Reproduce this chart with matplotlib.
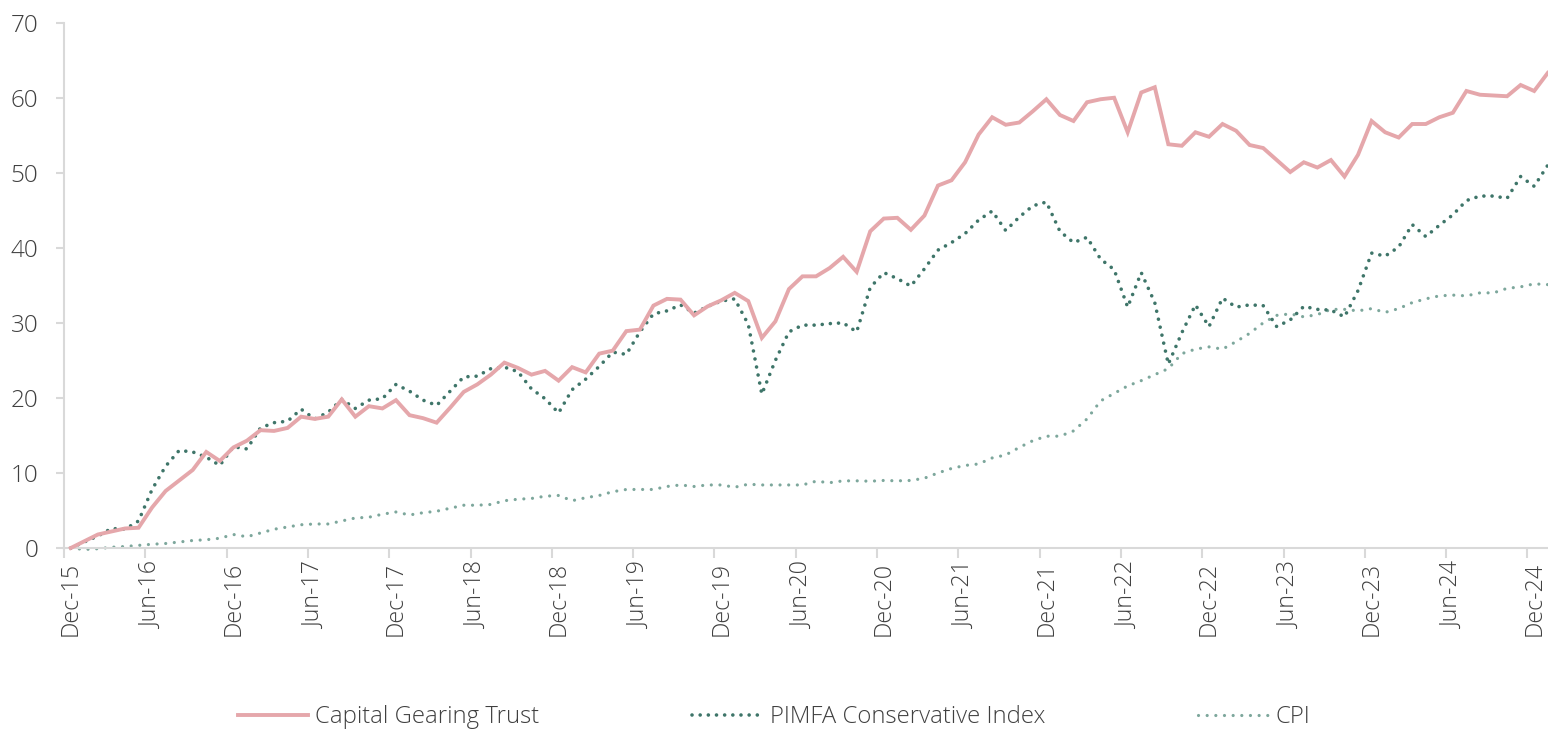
import matplotlib
matplotlib.use("Agg")
import matplotlib.pyplot as plt
from matplotlib.lines import Line2D

plt.rcParams['font.family'] = ['Open Sans', 'DejaVu Sans']
plt.rcParams['font.weight'] = 'light'

# ---- data (monthly, Dec-15 .. Jan-25) ----
start_year, start_month = 2015, 12
n_points = 110
month_names = ["Jan", "Feb", "Mar", "Apr", "May", "Jun",
               "Jul", "Aug", "Sep", "Oct", "Nov", "Dec"]
months = []
for k in range(n_points):
    m = (start_month - 1 + k) % 12
    y = start_year + (start_month - 1 + k) // 12
    months.append(f"{month_names[m]}-{y % 100:02d}")

capital_gearing = [
    0.0, 0.9, 1.8, 2.2, 2.6, 2.7, 5.4, 7.6, 9.0, 10.4,
    12.8, 11.6, 13.4, 14.3, 15.7, 15.6, 16.0, 17.5, 17.2, 17.5,
    19.8, 17.5, 18.9, 18.6, 19.7, 17.7, 17.3, 16.7, 18.7, 20.8,
    21.8, 23.1, 24.7, 24.0, 23.1, 23.6, 22.3, 24.1, 23.4, 25.9,
    26.3, 28.9, 29.1, 32.3, 33.2, 33.1, 31.0, 32.2, 33.0, 34.0,
    32.9, 28.0, 30.2, 34.5, 36.2, 36.2, 37.3, 38.8, 36.8, 42.2,
    43.9, 44.0, 42.4, 44.3, 48.3, 49.0, 51.4, 55.1, 57.4, 56.4,
    56.7, 58.2, 59.8, 57.7, 56.9, 59.4, 59.8, 60.0, 55.4, 60.7,
    61.4, 53.8, 53.6, 55.4, 54.8, 56.5, 55.6, 53.7, 53.3, 51.7,
    50.1, 51.4, 50.7, 51.7, 49.5, 52.4, 56.9, 55.4, 54.7, 56.5,
    56.5, 57.4, 58.0, 60.9, 60.4, 60.3, 60.2, 61.7, 60.9, 63.3,
]

pimfa_conservative = [
    0.0, 0.8, 1.6, 2.6, 2.5, 3.6, 7.8, 10.9, 13.0, 12.8,
    12.1, 11.0, 13.5, 13.2, 16.0, 16.7, 16.9, 18.5, 17.2, 18.1,
    19.8, 18.6, 19.7, 19.9, 21.8, 20.9, 19.7, 19.0, 20.9, 22.8,
    22.9, 23.9, 24.1, 23.5, 21.2, 19.9, 18.0, 21.1, 22.5, 24.2,
    26.1, 25.8, 28.8, 31.2, 31.6, 32.4, 31.3, 32.2, 32.9, 33.2,
    29.8, 20.5, 25.0, 28.8, 29.7, 29.7, 29.9, 30.0, 28.8, 34.7,
    36.7, 35.9, 34.9, 37.2, 39.7, 40.7, 41.9, 43.7, 44.9, 42.3,
    44.1, 45.6, 46.1, 42.2, 40.7, 41.4, 38.5, 37.1, 32.1, 36.7,
    32.7, 24.5, 28.7, 32.4, 29.5, 33.3, 32.1, 32.4, 32.3, 29.5,
    30.4, 32.2, 31.8, 31.7, 30.8, 34.3, 39.3, 38.9, 40.1, 43.1,
    41.5, 43.0, 44.4, 46.3, 46.9, 46.9, 46.6, 49.5, 48.2, 51.0,
]

cpi = [
    0.0, -0.2, -0.1, 0.1, 0.2, 0.35, 0.5, 0.6, 0.8, 1.0,
    1.1, 1.3, 1.8, 1.5, 2.0, 2.5, 2.8, 3.1, 3.2, 3.2,
    3.6, 4.0, 4.1, 4.5, 4.8, 4.4, 4.7, 4.9, 5.3, 5.7,
    5.7, 5.8, 6.3, 6.5, 6.6, 6.9, 7.0, 6.3, 6.7, 7.0,
    7.5, 7.8, 7.8, 7.8, 8.2, 8.4, 8.2, 8.4, 8.4, 8.1,
    8.5, 8.4, 8.4, 8.4, 8.4, 8.9, 8.7, 8.95, 8.95, 8.9,
    9.0, 8.95, 9.0, 9.3, 10.0, 10.6, 11.0, 11.2, 12.0, 12.4,
    13.4, 14.3, 14.9, 14.9, 15.6, 17.2, 19.6, 20.6, 21.6, 22.3,
    23.1, 23.9, 25.9, 26.5, 26.8, 26.5, 27.5, 28.6, 30.0, 31.0,
    31.2, 30.8, 31.1, 31.8, 31.8, 31.6, 31.9, 31.4, 31.9, 32.7,
    33.2, 33.6, 33.7, 33.6, 34.0, 34.0, 34.6, 34.8, 35.2, 35.1,
]

series_names = ["Capital Gearing Trust", "PIMFA Conservative Index", "CPI"]
y_ticks = [0, 10, 20, 30, 40, 50, 60, 70]

# ---- styling ----
W, H = 1548, 730
c_cgt = "#E5A7AB"
c_pimfa = "#3E7569"
c_cpi = "#7DA79C"
axis_col = "#D9D9D9"
text_col = "#404040"
dot_pimfa = (0, (0.01, 2.25))
dot_cpi = (0, (0.01, 2.7))

fig = plt.figure(figsize=(W / 100, H / 100), dpi=100)
px_per_cat = 13.55
left_px, y0_px, y70_px = 64, 548, 22.7
ax = fig.add_axes([left_px / W, (H - y0_px) / H,
                   (W - left_px) / W, (y0_px - y70_px) / H])

x = list(range(n_points))
ax.plot(x, cpi, color=c_cpi, lw=2.3, linestyle=dot_cpi,
        dash_capstyle='round', clip_on=False, zorder=2)
ax.plot(x, pimfa_conservative, color=c_pimfa, lw=2.6, linestyle=dot_pimfa,
        dash_capstyle='round', clip_on=False, zorder=3)
ax.plot(x, capital_gearing, color=c_cgt, lw=2.8, solid_joinstyle='miter',
        clip_on=False, zorder=4)

ax.set_xlim(-0.5, -0.5 + (W - left_px) / px_per_cat)
ax.set_ylim(0, 70)

for s in ["top", "right"]:
    ax.spines[s].set_visible(False)
for s in ["left", "bottom"]:
    ax.spines[s].set_color(axis_col)
    ax.spines[s].set_linewidth(1.5)

ax.set_yticks(y_ticks)
ax.set_yticklabels([str(v) for v in y_ticks])
ax.tick_params(axis='y', length=6, width=1.5, color=axis_col,
               labelsize=17.5, labelcolor=text_col, pad=12.5)

label_pos = list(range(0, n_points, 6))
ax.set_xticks(label_pos)
ax.set_xticklabels([months[i] for i in label_pos], rotation=90)
ax.tick_params(axis='x', which='major', length=0, labelsize=16.7,
               labelcolor=text_col, pad=10)
ax.set_xticks([p - 0.5 for p in label_pos], minor=True)
ax.tick_params(axis='x', which='minor', length=7, width=1.5, color=axis_col)
ax.set_facecolor("white")

handles = [
    Line2D([], [], color=c_cgt, lw=2.8),
    Line2D([], [], color=c_pimfa, lw=2.6, linestyle=dot_pimfa,
           dash_capstyle='round'),
    Line2D([], [], color=c_cpi, lw=2.3, linestyle=dot_cpi,
           dash_capstyle='round'),
]
fig.legend(handles, series_names, loc='center', bbox_to_anchor=(0.5, 13 / H),
           ncol=3, frameon=False, fontsize=17.2, handlelength=2.95,
           handletextpad=0.3, columnspacing=6.4, labelcolor=text_col)

fig.savefig("out.png", dpi=100, facecolor="white")
